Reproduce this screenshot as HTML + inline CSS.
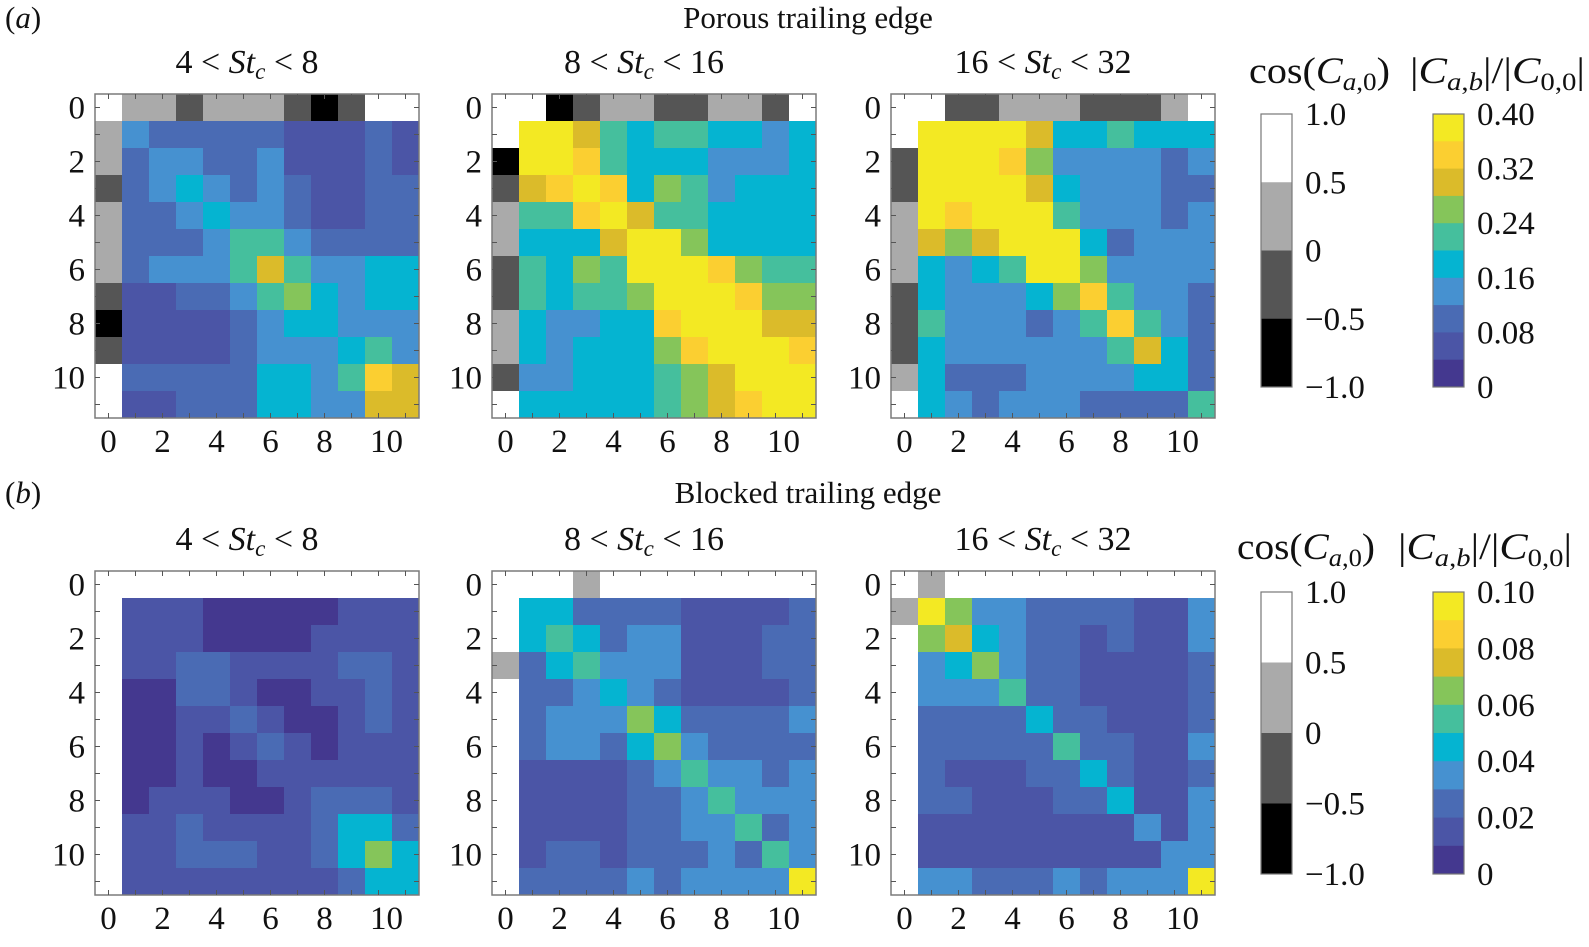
<!DOCTYPE html>
<html><head><meta charset="utf-8"><style>
body{margin:0;background:#fff}
svg, svg text, svg tspan{font-family:"Liberation Serif","DejaVu Serif",serif}
text{fill:#111}
</style></head><body>
<svg id="fig" width="1589" height="942" viewBox="0 0 1589 942" font-family="Liberation Serif, DejaVu Serif, serif">
<g font-size="31">
<text x="5" y="28">(<tspan font-style="italic">a</tspan>)</text>
<text x="808" y="28" text-anchor="middle">Porous trailing edge</text>
<text x="5" y="503">(<tspan font-style="italic">b</tspan>)</text>
<text x="808" y="503" text-anchor="middle">Blocked trailing edge</text>
</g>
<g id="plots"></g>
</svg>
<script>
// magnitudes top row (|C_ab|/|C_00| x100), 11x11 interior (rows 1..11, cols 1..11)
const magA1=[[14,10,10,10,10,10,6,6,6,10,6],[10,14,14,10,10,14,6,6,6,10,6],[10,14,18,14,10,14,10,6,6,10,10],[10,10,14,18,14,14,10,6,6,10,10],[10,10,10,14,22,22,14,10,10,10,10],[10,14,14,14,22,30,22,14,14,18,18],[6,6,10,10,14,22,26,18,14,18,18],[6,6,6,6,10,14,18,18,14,14,14],[6,6,6,6,10,14,14,14,18,22,14],[10,10,10,10,10,18,18,14,22,34,30],[6,6,10,10,10,18,18,14,14,30,30]];
const magA2=[[38,38,30,22,18,22,22,18,18,14,18],[38,38,34,22,18,18,18,14,14,14,18],[30,34,38,34,18,26,22,14,18,18,18],[22,22,34,38,30,22,22,18,18,18,18],[18,18,18,30,38,38,26,18,18,18,18],[22,18,26,22,38,38,38,34,26,22,22],[22,18,22,22,26,38,38,38,34,26,26],[18,14,14,18,18,34,38,38,38,30,30],[18,14,18,18,18,26,34,38,38,38,34],[14,14,18,18,18,22,26,30,38,38,38],[18,18,18,18,18,22,26,30,34,38,38]];
const magA3=[[38,38,38,38,30,18,18,22,18,18,18],[38,38,38,34,26,14,14,14,14,10,14],[38,38,38,38,30,18,14,14,14,10,10],[38,34,38,38,38,22,14,14,14,10,14],[30,26,30,38,38,38,18,10,14,14,14],[18,14,18,22,38,38,26,14,14,14,14],[18,14,14,14,18,26,34,22,14,14,10],[22,14,14,14,10,14,22,34,22,14,10],[18,14,14,14,14,14,14,22,30,18,10],[18,10,10,10,14,14,14,14,18,18,10],[18,14,10,14,14,14,10,10,10,10,22]];
// bottom row magnitudes (x1000)
const magB1=[[15,15,15,5,5,5,5,5,15,15,15],[15,15,15,5,5,5,5,15,15,15,15],[15,15,25,25,15,15,15,15,25,25,15],[5,5,25,25,15,5,5,15,15,25,15],[5,5,15,15,25,15,5,5,15,25,15],[5,5,15,5,15,25,15,5,15,15,15],[5,5,15,5,5,15,15,15,15,15,15],[5,15,15,15,5,5,15,25,25,25,15],[15,15,25,15,15,15,15,25,45,45,25],[15,15,25,25,25,15,15,25,45,65,45],[15,15,15,15,15,15,15,15,25,45,45]];
const magB2=[[45,45,25,25,25,25,15,15,15,15,25],[45,55,45,25,35,35,15,15,15,25,25],[25,45,55,35,35,35,15,15,15,25,25],[25,25,35,45,35,25,15,15,15,15,25],[25,35,35,35,65,45,25,25,25,25,35],[25,35,35,25,45,65,35,25,25,25,25],[15,15,15,15,25,35,55,35,35,25,35],[15,15,15,15,25,25,35,55,35,35,35],[15,15,15,15,25,25,35,35,55,25,35],[15,25,25,15,25,25,25,35,25,55,35],[25,25,25,25,35,25,35,35,35,35,95]];
const magB3=[[95,65,35,35,25,25,25,25,15,15,35],[65,75,45,35,25,25,15,25,15,15,35],[35,45,65,35,25,25,15,15,15,15,25],[35,35,35,55,25,25,15,15,15,15,25],[25,25,25,25,45,25,25,15,15,15,25],[25,25,25,25,25,55,25,25,15,15,35],[25,15,15,15,25,25,45,25,15,15,25],[25,25,15,15,15,25,25,45,15,15,35],[15,15,15,15,15,15,15,15,35,15,35],[15,15,15,15,15,15,15,15,15,35,35],[35,35,25,25,25,35,25,35,35,35,95]];
// cos(C_a0) for a=1..11 (row 0 and column 0)
const cosA1=[0.25,0.25,-0.25,0.25,0.25,0.25,-0.25,-0.75,-0.25,0.75,0.75];
const cosA2=[0.75,-0.75,-0.25,0.25,0.25,-0.25,-0.25,0.25,0.25,-0.25,0.75];
const cosA3=[0.75,-0.25,-0.25,0.25,0.25,0.25,-0.25,-0.25,-0.25,0.25,0.75];
const cosB1=[0.75,0.75,0.75,0.75,0.75,0.75,0.75,0.75,0.75,0.75,0.75];
const cosB2=[0.75,0.75,0.25,0.75,0.75,0.75,0.75,0.75,0.75,0.75,0.75];
const cosB3=[0.25,0.75,0.75,0.75,0.75,0.75,0.75,0.75,0.75,0.75,0.75];
const subtitles=[["4 < ","8"],["8 < ","16"],["16 < ","32"]];
const tickLabels=["0","2","4","6","8","10"];
const grayTicks=["1.0","0.5","0","\u22120.5","\u22121.0"];
const magTicksTop=["0.40","0.32","0.24","0.16","0.08","0"];
const magTicksBot=["0.10","0.08","0.06","0.04","0.02","0"];

const NS="http://www.w3.org/2000/svg";
const FONT='"Liberation Serif","DejaVu Serif",serif';
const parula=["#44388f","#4b55a6","#4a6bb4","#4691d0","#05b4d1","#45bf9d","#85c55a","#dbbb2a","#fbcf31","#f3e923"];
const grays=["#000000","#555555","#aaaaaa","#ffffff"];
const root=document.getElementById('plots');
function mk(tag,attrs,parent){const e=document.createElementNS(NS,tag);for(const k in attrs)e.setAttribute(k,attrs[k]);if(tag==='text')e.style.fontFamily=FONT;(parent||root).appendChild(e);return e;}
const CELL=27;
function magColor(v,vmax){let b=Math.floor(v/vmax*10);b=Math.max(0,Math.min(9,b));return parula[b];}
function cosColor(v){let b=Math.floor((v+1)/2*4);b=Math.max(0,Math.min(3,b));return grays[b];}

function panel(x0,y0,mag,cosv,vmax,sub,name){
  const g=mk('g',{});
  
  
  const sx=i=>x0+i*CELL, sy=j=>y0+j*CELL;
  for(let a=0;a<11;a++){
    const c=cosColor(cosv[a]);
    const r1=mk('rect',{x:sx(a+1),y:sy(0),width:CELL+0.5,height:CELL+0.5,fill:c},g);
    
    
    const r2=mk('rect',{x:sx(0),y:sy(a+1),width:CELL+0.5,height:CELL+0.5,fill:c},g);
    
    
  }
  for(let r=0;r<11;r++)for(let c=0;c<11;c++){
    const rc=mk('rect',{x:sx(c+1),y:sy(r+1),width:CELL+0.5,height:CELL+0.5,fill:magColor(mag[r][c],vmax)},g);
    
    
  }
  const box=mk('rect',{x:x0,y:y0,width:12*CELL,height:12*CELL,fill:'none',stroke:'#7a7a7a','stroke-width':1.5},g);
  
  
  for(let i=0;i<12;i++){
    const cx=sx(i)+CELL/2;
    mk('line',{x1:cx,y1:y0,x2:cx,y2:y0+5,stroke:'#555','stroke-width':1},g);
    mk('line',{x1:cx,y1:y0+12*CELL,x2:cx,y2:y0+12*CELL-5,stroke:'#555','stroke-width':1},g);
    mk('line',{x1:x0,y1:cx-x0+y0,x2:x0+5,y2:cx-x0+y0,stroke:'#555','stroke-width':1},g);
    mk('line',{x1:x0+12*CELL,y1:cx-x0+y0,x2:x0+12*CELL-5,y2:cx-x0+y0,stroke:'#555','stroke-width':1},g);
  }
  tickLabels.forEach((t,k)=>{
    const c=sx(2*k)+CELL/2+(k===5?8:0);
    const tx=mk('text',{x:c,y:y0+12*CELL+34,'text-anchor':'middle','font-size':33},g);
    tx.textContent=t;
    
    
    const ty=mk('text',{x:x0-10,y:sy(2*k)+CELL/2+11,'text-anchor':'end','font-size':33},g);
    ty.textContent=t;
    
    
  });
  const st=mk('text',{x:x0+6*CELL-10,y:y0-21,'text-anchor':'middle','font-size':34},g);
  
  
  st.innerHTML=sub[0]+'<tspan font-style="italic">St</tspan><tspan font-style="italic" font-size="23" dy="6">c</tspan><tspan dy="-6"> &lt; '+sub[1]+'</tspan>';
}
const PX=[95,492,891],PY=[94,571];
panel(PX[0],PY[0],magA1,cosA1,40,subtitles[0],'heatmap-porous-4-8');
panel(PX[1],PY[0],magA2,cosA2,40,subtitles[1],'heatmap-porous-8-16');
panel(PX[2],PY[0],magA3,cosA3,40,subtitles[2],'heatmap-porous-16-32');
panel(PX[0],PY[1],magB1,cosB1,100,subtitles[0],'heatmap-blocked-4-8');
panel(PX[1],PY[1],magB2,cosB2,100,subtitles[1],'heatmap-blocked-8-16');
panel(PX[2],PY[1],magB3,cosB3,100,subtitles[2],'heatmap-blocked-16-32');

function colorbars(top,h,magTicks,tY,c1,c2,m1,m2){
  const g=mk('g',{});
  
  
  const t1=mk('text',{x:c1,y:tY,'font-size':37,textLength:c2-c1,lengthAdjust:'spacingAndGlyphs'},g);
  
  
  t1.innerHTML='cos(<tspan font-style="italic">C</tspan><tspan font-size="25" dy="7"><tspan font-style="italic">a</tspan>,0</tspan><tspan dy="-7">)</tspan>';
  const t2=mk('text',{x:m1,y:tY,'font-size':37,textLength:m2-m1,lengthAdjust:'spacingAndGlyphs'},g);
  
  
  t2.innerHTML='|<tspan font-style="italic">C</tspan><tspan font-size="25" dy="7"><tspan font-style="italic">a</tspan>,<tspan font-style="italic">b</tspan></tspan><tspan dy="-7">|/|</tspan><tspan font-style="italic">C</tspan><tspan font-size="25" dy="7">0,0</tspan><tspan dy="-7">|</tspan>';
  for(let i=0;i<4;i++){
    mk('rect',{x:1261,y:top+i*h/4,width:31,height:h/4+0.5,fill:grays[3-i]},g);
  }
  mk('rect',{x:1261,y:top,width:31,height:h,fill:'none',stroke:'#777','stroke-width':1.2},g);
  grayTicks.forEach((t,i)=>{const e=mk('text',{x:1305,y:top+i*h/4+11,'font-size':33},g);e.textContent=t;
    
    });
  for(let i=0;i<10;i++){
    mk('rect',{x:1433,y:top+i*h/10,width:31,height:h/10+0.5,fill:parula[9-i]},g);
  }
  mk('rect',{x:1433,y:top,width:31,height:h,fill:'none',stroke:'#777','stroke-width':1.2},g);
  magTicks.forEach((t,i)=>{const e=mk('text',{x:1477,y:top+i*h/5+11,'font-size':33},g);e.textContent=t;
    
    });
}
colorbars(114,273,magTicksTop,83,1249,1390,1410,1585);
colorbars(592,282,magTicksBot,559,1237,1375,1398,1572);
</script>
</body></html>
